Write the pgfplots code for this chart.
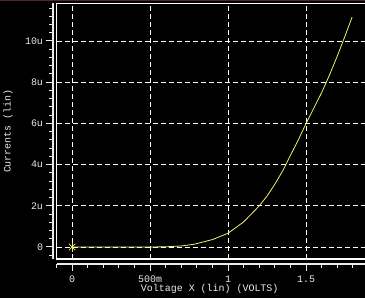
\documentclass[border=0pt]{standalone}
\usepackage{pgfplots}
\pgfplotsset{compat=1.18}
\usepackage{fontspec}
\setmainfont{Liberation Mono}
\definecolor{curve}{RGB}{240,240,110}
\definecolor{txt}{RGB}{235,235,235}
\definecolor{brd}{RGB}{70,40,40}
\begin{document}
\begin{tikzpicture}
\useasboundingbox (0,0) rectangle (365bp,298bp);
\fill[black] (0,0) rectangle (365bp,298bp);
\begin{axis}[
  at={(56.5bp,39bp)}, anchor=south west,
  scale only axis, width=312bp, height=255.7bp,
  xmin=-0.1, xmax=1.9, ymin=-0.583, ymax=11.83,
  axis lines=left,
  axis line style={txt, -, line width=1.2bp},
  axis x line shift=5bp,
  axis y line shift=3.5bp,
  xtick={0,0.5,1,1.5}, xticklabels={0,500m,1,1.5},
  ytick={0,2,4,6,8,10}, yticklabels={0,2u,4u,6u,8u,10u},
  minor xtick={-0.1,0.1,0.2,0.3,0.4,0.6,0.7,0.8,0.9,1.1,1.2,1.3,1.4,1.6,1.7,1.8},
  minor ytick={-0.4,0.4,0.8,1.2,1.6,2.4,2.8,3.2,3.6,4.4,4.8,5.2,5.6,6.4,6.8,7.2,7.6,8.4,8.8,9.2,9.6,10.4,10.8,11.2,11.6},
  tick align=outside,
  major tick length=6.5bp, minor tick length=3.5bp,
  tick style={txt, line width=1bp},
  grid=major,
  major grid style={white, line width=0.9bp, dash pattern=on 5bp off 3bp},
  ticklabel style={font=\fontsize{10}{12}\selectfont, text=txt},
  xticklabel style={yshift=-1.5bp},
  label style={font=\fontsize{10}{12}\selectfont, text=txt},
  xlabel={Voltage X (lin) (VOLTS)},
  ylabel={Currents (lin)},
  xlabel style={at={(axis description cs:0.491,-0.1173)}, anchor=center},
  ylabel style={at={(axis description cs:-0.155,0.5)}, anchor=center},
  clip=false,
]
\draw[white, line width=1.5bp] (rel axis cs:0,0) rectangle (rel axis cs:1,1);
\addplot[curve, line width=0.8bp] coordinates {
 (0,0) (0.5,0) (0.6,0.01) (0.7,0.05) (0.78,0.13) (0.9,0.36) (1.0,0.67)
 (1.1,1.22) (1.2,2.0) (1.25,2.48) (1.3,3.05) (1.35,3.7) (1.4,4.45) (1.45,5.2)
 (1.5,6.0) (1.55,6.75) (1.6,7.5) (1.65,8.35) (1.7,9.27) (1.75,10.25) (1.795,11.16)
};
\addplot[curve, only marks, mark=x, mark size=4.5bp, line width=0.8bp] coordinates {(0,0)};
\addplot[curve, only marks, mark=|, mark size=5bp, line width=0.8bp] coordinates {(0,0)};
\end{axis}
\fill[brd] (0,296.8bp) rectangle (365bp,298bp);
\end{tikzpicture}
\end{document}
